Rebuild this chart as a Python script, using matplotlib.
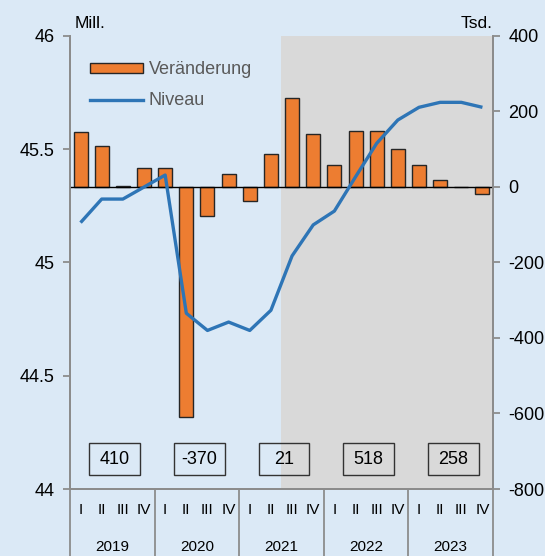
import numpy as np
import matplotlib.pyplot as plt
from matplotlib.patches import Rectangle, Patch
from matplotlib.lines import Line2D

plt.rcParams['font.family'] = ['Liberation Sans', 'DejaVu Sans']
plt.rcParams['axes.unicode_minus'] = False

# Daten
years = ['2019', '2020', '2021', '2022', '2023']
quarters = ['I', 'II', 'III', 'IV']
year_change = ['410', '-370', '21', '518', '258']
change_tsd = [146, 109, 2, 50, 50, -608, -76, 35, -36, 87,
              237, 140, 59, 148, 148, 100, 59, 19, 0, -19]
level_mill = [45.176, 45.280, 45.280, 45.333, 45.386, 44.776, 44.700, 44.737,
              44.700, 44.789, 45.029, 45.166, 45.227, 45.378, 45.526, 45.629,
              45.685, 45.707, 45.707, 45.685]
shade_start = 10  # ab 2021 III

bg = '#dbe9f6'
orange = '#ed7d31'
blue = '#2e75b6'
grey = '#8c8c8c'

fig = plt.figure(figsize=(5.45, 5.56), dpi=100)
fig.patch.set_facecolor(bg)
ax = fig.add_axes([0.1284, 0.1205, 0.7762, 0.8148])
ax.set_facecolor(bg)

x = np.arange(len(change_tsd))

# Balken (rechte Achse, Tsd.)
ax.axvspan(shade_start - 0.5, len(x) - 0.5, color='#d9d9d9', zorder=0, lw=0)
ax.bar(x, change_tsd, width=0.66, color=orange, edgecolor='#262626', linewidth=1.0, zorder=2)
ax.axhline(0, color='black', lw=1.0, zorder=3)
ax.set_ylim(-800, 400)
ax.set_yticks([-800, -600, -400, -200, 0, 200, 400])
ax.set_xlim(-0.5, len(x) - 0.5)

# Linie (linke Achse, Mill.)
ax2 = ax.twinx()
ax2.plot(x, level_mill, color=blue, lw=2.4, zorder=4, solid_capstyle='butt')
ax2.set_ylim(44, 46)
ax2.set_yticks([44, 44.5, 45, 45.5, 46])
ax2.set_yticklabels(['44', '44.5', '45', '45.5', '46'])
ax2.yaxis.tick_left()
ax.yaxis.tick_right()

for a in (ax, ax2):
    a.spines['top'].set_visible(False)
    for s in ('left', 'right', 'bottom'):
        a.spines[s].set_color(grey)
        a.spines[s].set_linewidth(1.3)
    a.tick_params(axis='y', colors=grey, labelcolor='black', labelsize=13,
                  length=5, width=1.3, pad=6)
    a.tick_params(axis='x', length=0, labelbottom=False)

# Quartale und Jahre unter der Achse
trans = ax.get_xaxis_transform()
for i in x:
    ax.text(i, -0.046, quarters[i % 4], transform=trans, ha='center', va='center', fontsize=11)
for k, yr in enumerate(years):
    c = 4 * k + 1.5
    ax.text(c, -0.128, yr, transform=trans, ha='center', va='center', fontsize=11)
    ax.add_patch(Rectangle((c + 0.12 - 1.2, 0.031), 2.4, 0.071, transform=trans,
                           fill=False, edgecolor='#333333', lw=1.0, zorder=5, clip_on=False))
    ax.text(c + 0.12, 0.066, year_change[k], transform=trans, ha='center', va='center',
            fontsize=13, zorder=6)
for b in range(0, len(x) + 1, 4):
    ax.plot([b - 0.5, b - 0.5], [0, -0.148], transform=trans, color=grey, lw=1.3,
            clip_on=False, zorder=5)

# Einheiten
ax.text(0.012, 1.012, 'Mill.', transform=ax.transAxes, ha='left', va='bottom', fontsize=12.5)
ax.text(0.998, 1.012, 'Tsd.', transform=ax.transAxes, ha='right', va='bottom', fontsize=12.5)

handles = [Patch(facecolor=orange, edgecolor='#262626', linewidth=1.0),
           Line2D([], [], color=blue, lw=2.4)]
leg = ax2.legend(handles, ['Veränderung', 'Niveau'], loc='upper left',
                 bbox_to_anchor=(0.01, 0.98), frameon=False, fontsize=13,
                 handlelength=2.9, handleheight=0.5, labelspacing=0.78, handletextpad=0.33)
for t in leg.get_texts():
    t.set_color('#595959')

fig.savefig('out.png', dpi=100, facecolor=bg)
